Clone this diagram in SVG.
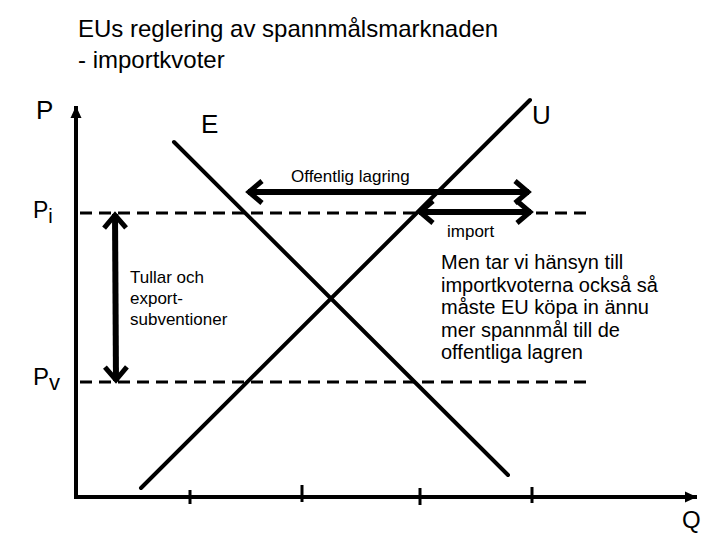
<svg xmlns="http://www.w3.org/2000/svg" width="720" height="540" viewBox="0 0 720 540">
  <style>
    text { font-family: "Liberation Sans", Arial, sans-serif; fill: #000; }
    .title { font-size: 24px; }
    .axislabel { font-size: 26px; }
    .lbl { font-size: 17px; }
    .note { font-size: 20px; }
    .axis { stroke: #000; stroke-width: 4; fill: none; }
    .curve { stroke: #000; stroke-width: 4; fill: none; stroke-linecap: round; }
    .dash { stroke: #000; stroke-width: 3; stroke-dasharray: 12 7; fill: none; }
    .tick { stroke: #000; stroke-width: 3; }
    .dbl { stroke: #000; stroke-width: 6; fill: none; marker-start: url(#chev); marker-end: url(#chev); }
  </style>
  <defs>
    <marker id="chev" markerUnits="userSpaceOnUse" viewBox="-20 -15 24 30" markerWidth="24" markerHeight="30" refX="0" refY="0" orient="auto-start-reverse" overflow="visible">
      <path d="M -14 -11 L -1 0 L -14 11" fill="none" stroke="#000" stroke-width="5" stroke-linejoin="miter"/>
    </marker>
    <marker id="tri" markerUnits="userSpaceOnUse" viewBox="-12 -6 12 12" markerWidth="12" markerHeight="12" refX="0" refY="0" orient="auto" overflow="visible">
      <path d="M -12 -5.5 L 0 0 L -12 5.5 Z" fill="#000"/>
    </marker>
  </defs>

  <g id="title">
    <text class="title" x="78" y="37">EUs reglering av spannmålsmarknaden</text>
    <text class="title" x="78" y="68">- importkvoter</text>
  </g>

  <g id="axes">
    <line class="axis" x1="76" y1="499" x2="76" y2="106" marker-end="url(#tri)"/>
    <line class="axis" x1="74" y1="497" x2="697" y2="497" marker-end="url(#tri)"/>
    <line class="tick" x1="190" y1="490" x2="190" y2="504"/>
    <line class="tick" x1="302" y1="485" x2="302" y2="502"/>
    <line class="tick" x1="420" y1="488" x2="420" y2="505"/>
    <line class="tick" x1="532" y1="487" x2="532" y2="503"/>
    <text class="axislabel" x="36" y="119">P</text>
    <text class="axislabel" x="682" y="528" style="font-size:24px">Q</text>
  </g>

  <g id="price-levels">
    <line class="dash" x1="80" y1="213" x2="592" y2="213"/>
    <line class="dash" x1="80" y1="382" x2="592" y2="382"/>
    <text x="33" y="218" style="font-size:23px">P<tspan dy="5" style="font-size:20px">i</tspan></text>
    <text x="33" y="385" style="font-size:24px">P<tspan dy="5" style="font-size:22px">v</tspan></text>
  </g>

  <g id="demand">
    <line class="curve" x1="174" y1="142" x2="508" y2="475"/>
    <text class="axislabel" x="201" y="133">E</text>
  </g>

  <g id="supply">
    <line class="curve" x1="530" y1="100" x2="141" y2="488"/>
    <text class="axislabel" x="532" y="124">U</text>
  </g>

  <g id="connectors">
    <line id="offentlig-lagring-arrow" class="dbl" x1="248" y1="192" x2="529" y2="192"/>
    <line id="import-arrow" class="dbl" x1="419" y1="212" x2="531" y2="212"/>
    <line id="tullar-arrow" class="dbl" x1="115" y1="214" x2="116" y2="381"/>
  </g>

  <g id="labels">
    <text class="lbl" x="291" y="182">Offentlig lagring</text>
    <text class="lbl" x="447" y="237">import</text>
    <text class="lbl" x="130" y="283">Tullar och</text>
    <text class="lbl" x="130" y="304">export-</text>
    <text class="lbl" x="130" y="325">subventioner</text>
  </g>

  <g id="note">
    <text class="note" x="441" y="269">Men tar vi hänsyn till</text>
    <text class="note" x="441" y="291.5">importkvoterna också så</text>
    <text class="note" x="441" y="314">måste EU köpa in ännu</text>
    <text class="note" x="441" y="336.5">mer spannmål till de</text>
    <text class="note" x="441" y="359">offentliga lagren</text>
  </g>
</svg>
